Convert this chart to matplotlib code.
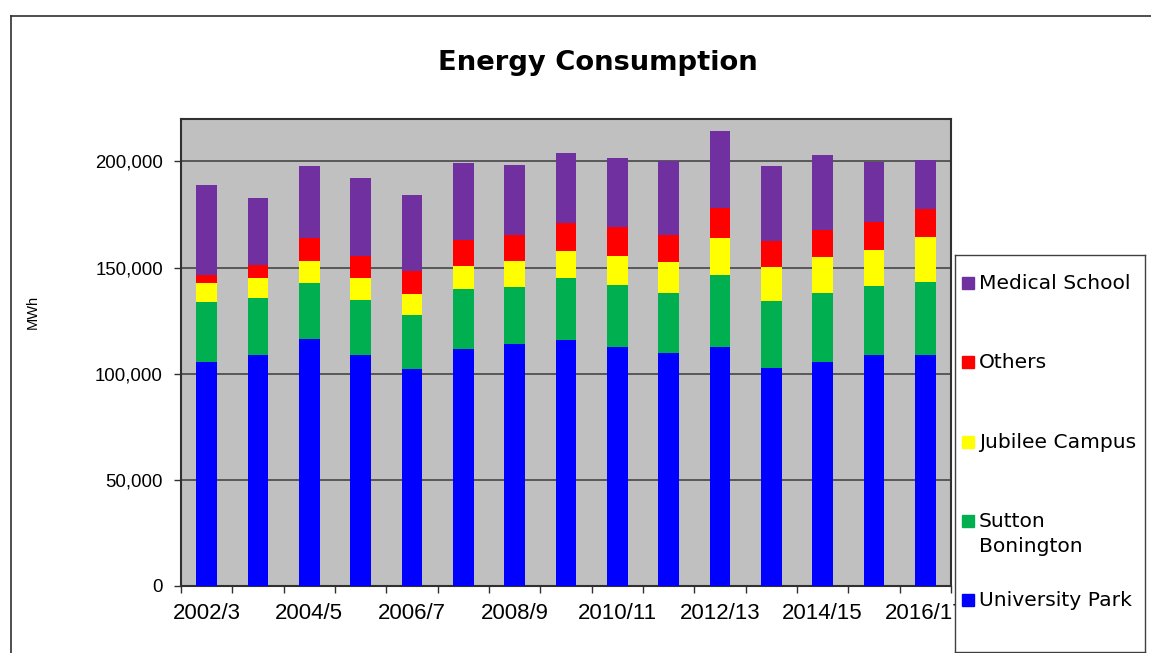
import numpy as np
import matplotlib
matplotlib.use("Agg")
import matplotlib.pyplot as plt
from matplotlib.lines import Line2D
from matplotlib.patches import Rectangle
from matplotlib.ticker import FuncFormatter, FixedLocator

years = ['2002/3', '2003/4', '2004/5', '2005/6', '2006/7', '2007/8', '2008/9',
         '2009/10', '2010/11', '2011/12', '2012/13', '2013/14', '2014/15',
         '2015/16', '2016/17']

# MWh per site, bottom of stack first
university_park = [105500, 109000, 116200, 109000, 102000, 111500, 114200, 115700,
                   112600, 109600, 112700, 102800, 105500, 108800, 108700]
sutton_bonington = [28100, 26700, 26600, 25800, 25900, 28600, 26600, 29500,
                    29200, 28300, 33600, 31300, 32400, 32400, 34400]
jubilee_campus = [9100, 9300, 10500, 10100, 9800, 10800, 12100, 12700,
                  13500, 14600, 17500, 16200, 17000, 17300, 21400]
others = [3800, 6100, 10500, 10500, 10700, 12000, 12600, 13100,
          13700, 12900, 14300, 12400, 12900, 12900, 12900]
medical_school = [42300, 31600, 34100, 36600, 35700, 36300, 32700, 33000,
                  32400, 34600, 36300, 35100, 35400, 28300, 23300]

series = [university_park, sutton_bonington, jubilee_campus, others, medical_school]
labels = ['University Park', 'Sutton\nBonington', 'Jubilee Campus', 'Others', 'Medical School']
colors = ['#0000FF', '#00B050', '#FFFF00', '#FF0000', '#7030A0']

W, H = 1151, 653
fig = plt.figure(figsize=(W / 100, H / 100), dpi=100)

# outer chart border (only top/left visible in the crop)
fig.add_artist(Line2D([11 / W, 11 / W], [0, 1 - 16 / H], transform=fig.transFigure,
                      color='#303030', lw=1.2))
fig.add_artist(Line2D([11 / W, 1], [1 - 16 / H, 1 - 16 / H], transform=fig.transFigure,
                      color='#303030', lw=1.2))

ax = fig.add_axes([181 / W, 1 - 586 / H, 770 / W, 467 / H])
ax.set_facecolor('#C0C0C0')

x = np.arange(len(years))
bottom = np.zeros(len(years))
for vals, col in zip(series, colors):
    ax.bar(x, vals, width=0.4, bottom=bottom, color=col, edgecolor='none', zorder=3)
    bottom += np.array(vals)

ax.set_xlim(-0.5, len(years) - 0.5)
ax.set_ylim(0, 220000)
ax.set_yticks(np.arange(0, 200001, 50000))
ax.yaxis.set_major_formatter(FuncFormatter(lambda v, p: f"{int(v):,}"))
ax.grid(axis='y', color='#505050', lw=1.3, zorder=1)

ax.set_xticks(x[::2])
ax.set_xticklabels(years[::2])
ax.xaxis.set_minor_locator(FixedLocator(np.arange(-0.5, len(years), 1)))
ax.tick_params(axis='x', which='major', length=0, pad=12, labelsize=16)
ax.tick_params(axis='x', which='minor', length=5, width=1, color='#303030')
ax.tick_params(axis='y', length=5, width=1, color='#303030', pad=8, labelsize=13.4)
for lab in ax.get_xticklabels() + ax.get_yticklabels():
    lab.set_fontfamily('Liberation Sans')
for s in ax.spines.values():
    s.set_color('#303030')
    s.set_linewidth(1.5)

fig.text(33 / W, 1 - 312 / H, 'MWh', rotation=90, ha='center', va='center',
         fontsize=10.5, family='Liberation Sans')
fig.text(598 / W, 1 - 63 / H, 'Energy Consumption', ha='center', va='center',
         fontsize=19.7, fontweight='bold', family='DejaVu Sans')

# legend box
lax = fig.add_axes([955 / W, 1 / H, 190 / W, 397 / H])
lax.set_xlim(0, 190)
lax.set_ylim(397, 0)
lax.set_xticks([])
lax.set_yticks([])
lax.set_facecolor('white')
for s in lax.spines.values():
    s.set_color('#404040')
    s.set_linewidth(1)

for i, (lab, col) in enumerate(zip(labels[::-1], colors[::-1])):
    top = 22 + i * 79.3
    lax.add_patch(Rectangle((7, top), 12, 12, color=col))
    lax.text(24, top - 3, lab, ha='left', va='top', fontsize=14.6,
             family='DejaVu Sans', linespacing=1.4)

fig.savefig('out.png', dpi=100)
